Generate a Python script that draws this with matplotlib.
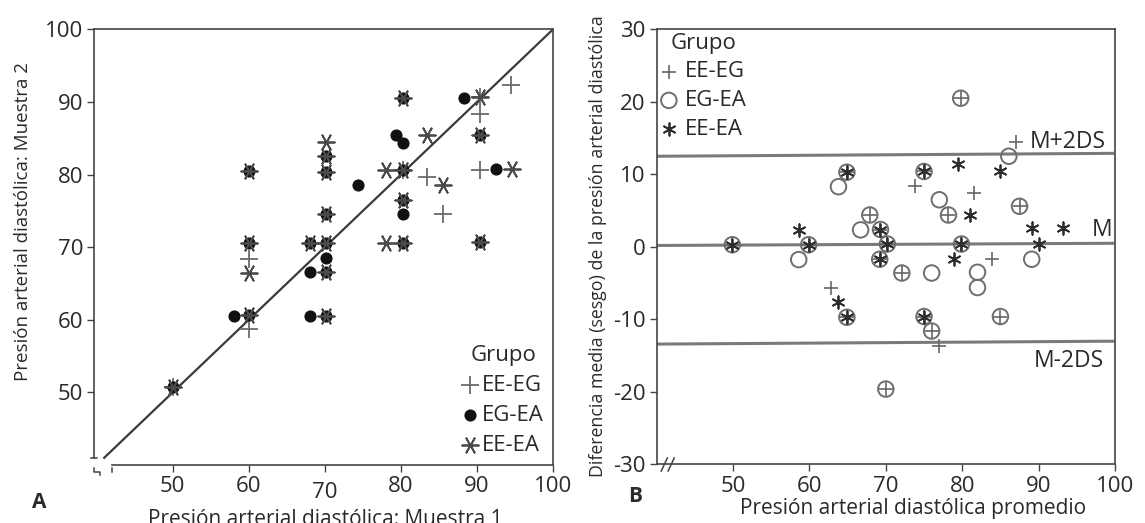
import numpy as np
import matplotlib
matplotlib.use("Agg")
import matplotlib.pyplot as plt

plt.rcParams["font.family"] = ["Open Sans", "DejaVu Sans"]
plt.rcParams["axes.unicode_minus"] = False

# panel A: muestra 1 (x) vs muestra 2 (y)
a_eeeg_x = [60, 60, 83.4, 85.5, 90.4, 90.4, 90.4, 94.5, 50.1, 80.3]
a_eeeg_y = [68.4, 58.7, 79.6, 74.6, 90.7, 88.4, 80.6, 92.4, 50.7, 80.6]

a_egea_x = [60, 60, 58.1, 60, 68.1, 68.1, 68.1, 70.2, 70.2, 70.2, 70.2, 70.2, 70.2, 70.2,
            74.3, 79.4, 80.3, 80.3, 80.3, 80.3, 80.3, 80.3, 88.3, 90.4, 92.5, 90.4, 50.1]
a_egea_y = [80.5, 70.6, 60.5, 60.6, 70.6, 66.6, 60.5, 82.5, 80.4, 74.5, 70.6, 68.5, 66.6, 60.5,
            78.5, 85.5, 84.4, 90.6, 80.6, 76.5, 74.6, 70.6, 90.6, 85.5, 80.7, 70.7, 50.7]

a_eeea_x = [60, 60, 60, 60, 68.1, 70.2, 70.2, 70.2, 70.2, 70.2, 70.2, 70.2,
            80.3, 78.1, 80.3, 80.3, 78.1, 80.3, 83.4, 85.5, 90.4, 90.4, 94.6, 90.4, 50.1]
a_eeea_y = [80.5, 70.6, 66.5, 60.6, 70.6, 84.5, 82.5, 80.4, 74.5, 70.6, 66.6, 60.5,
            90.6, 80.6, 80.6, 76.5, 70.6, 70.6, 85.5, 78.5, 90.7, 85.5, 80.7, 70.7, 50.7]

identity = [41, 100]

# panel B: promedio (x) vs diferencia (y)
b_eeeg_x = [49.9, 59.9, 64.9, 64.9, 69.3, 69.2, 70.2, 75, 75, 79.9,
            67.9, 72.1, 70.0, 76, 78.2, 79.8, 85, 87.5,
            73.8, 87, 81.5, 83.9, 62.8, 77]
b_eeeg_y = [0.3, 0.3, 10.3, -9.7, 2.4, -1.7, 0.4, 10.4, -9.6, 0.4,
            4.4, -3.6, -19.6, -11.6, 4.4, 20.5, -9.6, 5.6,
            8.4, 14.5, 7.4, -1.7, -5.6, -13.6]

b_egea_x = [49.9, 59.9, 64.9, 64.9, 69.3, 69.2, 70.2, 75, 75, 79.9,
            67.9, 72.1, 70.0, 76, 78.2, 79.8, 85, 87.5,
            63.8, 86.1, 77, 66.7, 58.6, 89.1, 76, 82, 82]
b_egea_y = [0.3, 0.3, 10.3, -9.7, 2.4, -1.7, 0.4, 10.4, -9.6, 0.4,
            4.4, -3.6, -19.6, -11.6, 4.4, 20.5, -9.6, 5.6,
            8.3, 12.5, 6.5, 2.35, -1.75, -1.7, -3.6, -3.5, -5.6]

b_eeea_x = [49.9, 59.9, 64.9, 64.9, 69.3, 69.2, 70.2, 75, 75, 79.9,
            79.4, 85, 81, 58.6, 89.1, 90, 78.9, 63.8, 93.2]
b_eeea_y = [0.3, 0.3, 10.3, -9.7, 2.4, -1.7, 0.4, 10.4, -9.6, 0.4,
            11.5, 10.5, 4.4, 2.35, 2.6, 0.4, -1.7, -7.6, 2.6]

line_x = [40, 99.7]
line_upper = [12.5, 12.9]
line_mean = [0.2, 0.5]
line_lower = [-13.4, -13.0]

ticks_a = [50, 60, 70, 80, 90, 100]
ticks_b_y = [-30, -20, -10, 0, 10, 20, 30]

SPINE = "#444444"
TXT = "#2a2a2a"
star6 = (6, 2, 0)
star6h = (6, 2, 90)

fig = plt.figure(figsize=(11.45, 5.23), dpi=100)

# ---------- A ----------
ax = fig.add_axes([0.0824, 0.1109, 0.4006, 0.833])
ax.set_xlim(39.7, 100)
ax.set_ylim(40, 100)
ax.plot(identity, identity, color="#3a3a3a", lw=1.6, zorder=1)
ax.scatter(a_egea_x, a_egea_y, s=60, marker="o", color="#111111", zorder=3, label="EG-EA")
ax.scatter(a_eeea_x, a_eeea_y, s=140, marker=star6h, color="#4a4a4a", linewidths=1.3,
           zorder=4, label="EE-EA")
ax.scatter(a_eeeg_x, a_eeeg_y, s=170, marker="+", color="#6a6a6a", linewidths=1.3,
           zorder=2, label="EE-EG")
ax.set_xticks(ticks_a)
ax.set_yticks(ticks_a)
ax.tick_params(colors=SPINE, labelcolor=TXT, labelsize=16, length=5, width=1, pad=3)
ax.xaxis.get_major_ticks()[2].set_pad(7)
for s in ax.spines.values():
    s.set_color(SPINE)
    s.set_linewidth(1.2)
ax.spines["left"].set_bounds(41, 100)
ax.spines["bottom"].set_bounds(42, 100)
# axis break marks
ax.plot([39.7, 39.7, 40.5, 40.5], [39.6, 39.1, 39.1, 38.6], color=SPINE, lw=1.1, clip_on=False)
ax.plot([39.3, 40.1], [41, 41], color=SPINE, lw=1.1, clip_on=False)
ax.plot([42, 42], [39.6, 39.0], color=SPINE, lw=1.1, clip_on=False)
h, l = ax.get_legend_handles_labels()
order = [l.index("EE-EG"), l.index("EG-EA"), l.index("EE-EA")]
leg = ax.legend([h[i] for i in order], [l[i] for i in order], title="Grupo",
                loc="lower right", bbox_to_anchor=(1.0, 0.0), frameon=False,
                fontsize=16, title_fontsize=16, handlelength=0.7, handletextpad=0.2,
                labelspacing=0.4, borderpad=0.3, borderaxespad=0.1)
for t in leg.get_texts():
    t.set_color(TXT)
leg.get_title().set_color(TXT)

fig.text(0.02, 1 - 222 / 523, "Presión arterial diastólica: Muestra 2", rotation=90,
         ha="center", va="center", fontsize=13.5, color=TXT)
fig.text(325 / 1145, 1 - 525 / 523, "Presión arterial diastólica: Muestra 1",
         ha="center", va="baseline", fontsize=15, color=TXT)
fig.text(39 / 1145, 1 - 503 / 523, "A", ha="center", va="center", fontsize=15,
         fontweight="bold", color=TXT)

# ---------- B ----------
bx = fig.add_axes([0.5735, 0.1119, 0.4003, 0.832])
bx.set_xlim(40, 100)
bx.set_ylim(-30, 30)
for yy in (line_upper, line_mean, line_lower):
    bx.plot(line_x, yy, color="#7a7a7a", lw=2.2, zorder=1)
bx.scatter(b_eeeg_x, b_eeeg_y, s=95, marker="+", color="#666666", linewidths=1.2,
           zorder=3, label="EE-EG")
bx.scatter(b_egea_x, b_egea_y, s=125, marker="o", facecolors="none", edgecolors="#6e6e6e",
           linewidths=1.4, zorder=2, label="EG-EA")
bx.scatter(b_eeea_x, b_eeea_y, s=80, marker=star6, color="#2e2e2e", linewidths=1.3,
           zorder=4, label="EE-EA")
bx.set_xticks(ticks_a)
bx.set_yticks(ticks_b_y)
bx.set_yticklabels([str(v) for v in ticks_b_y])
bx.tick_params(colors=SPINE, labelcolor=TXT, labelsize=16, length=5, width=1, pad=3)
for s in bx.spines.values():
    s.set_color(SPINE)
    s.set_linewidth(1.2)
for dx in (0.0, 0.9):
    bx.plot([40.6 + dx, 41.4 + dx], [-30.9, -29.1], color=SPINE, lw=1.1, clip_on=False)
bleg = bx.legend(title="Grupo", loc="upper left", bbox_to_anchor=(0.0, 1.0), frameon=False,
                 fontsize=16, title_fontsize=16, handlelength=0.8, handletextpad=0.3,
                 labelspacing=0.35, borderpad=0.05, borderaxespad=0.1)
for t in bleg.get_texts():
    t.set_color(TXT)
bleg.get_title().set_color(TXT)

bx.text(88.9, 14.5, "M+2DS", ha="left", va="center", fontsize=16.5, color=TXT)
bx.text(96.9, 2.4, "M", ha="left", va="center", fontsize=16.5, color=TXT)
bx.text(89.4, -15.7, "M-2DS", ha="left", va="center", fontsize=16.5, color=TXT)

fig.text(597.5 / 1145, 1 - 246 / 523,
         "Diferencia media (sesgo) de la presión arterial diastólica", rotation=90,
         ha="center", va="center", fontsize=12.8, color=TXT)
fig.text(913 / 1145, 1 - 514 / 523, "Presión arterial diastólica promedio",
         ha="center", va="baseline", fontsize=15, color=TXT)
fig.text(635 / 1145, 1 - 497 / 523, "B", ha="center", va="center", fontsize=15,
         fontweight="bold", color=TXT)

fig.savefig("out.png", dpi=100)
